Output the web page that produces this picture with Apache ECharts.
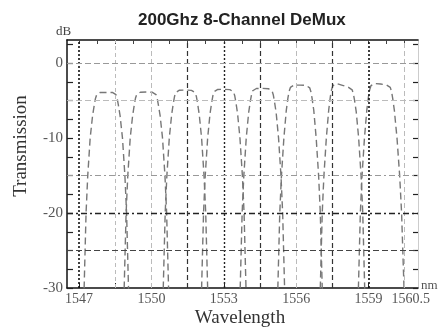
<!DOCTYPE html>
<html>
<head>
<meta charset="utf-8">
<script src="https://cdn.jsdelivr.net/npm/echarts@6/dist/echarts.min.js"></script>
<style>html,body{margin:0;padding:0;background:#fff}#c{width:441px;height:335px}</style>
</head>
<body>
<div id="c"></div>
<script>
// ---- data ----
const titleText = '200Ghz 8-Channel DeMux';
const xTickLabels = [1547, 1550, 1553, 1556, 1559, 1560.5];
const yTickLabels = [-30, -20, -10, 0];
const xGridValues = [1547, 1548.5, 1550, 1551.5, 1553, 1554.5, 1556, 1557.5, 1559, 1560.5];
const yGridValues = [0, -5, -15, -20, -25];

const wl1 = [1547.15,1547.21,1547.25,1547.29,1547.36,1547.46,1547.56,1547.63,1547.68,1547.73,1547.80,1547.88,1548.13,1548.38,1548.46,1548.53,1548.58,1548.63,1548.70,1548.80,1548.90,1548.97,1549.01,1549.05,1549.11];
const db1 = [-33,-30,-25,-20,-15,-10,-7,-5.6,-4.7,-4.2,-3.98,-3.9,-3.9,-3.9,-3.98,-4.2,-4.7,-5.6,-7,-10,-15,-20,-25,-30,-33];
const wl2 = [1548.81,1548.87,1548.91,1548.95,1549.02,1549.12,1549.22,1549.29,1549.34,1549.39,1549.46,1549.54,1549.79,1550.04,1550.12,1550.19,1550.24,1550.29,1550.36,1550.46,1550.56,1550.63,1550.67,1550.71,1550.77];
const db2 = [-33,-30,-25,-20,-15,-10,-7,-5.55,-4.65,-4.17,-3.95,-3.87,-3.85,-3.88,-3.96,-4.18,-4.7,-5.6,-7,-10,-15,-20,-25,-30,-33];
const wl3 = [1550.43,1550.49,1550.53,1550.57,1550.64,1550.74,1550.84,1550.91,1550.96,1551.01,1551.08,1551.16,1551.41,1551.66,1551.74,1551.81,1551.86,1551.91,1551.98,1552.08,1552.18,1552.25,1552.29,1552.33,1552.39];
const db3 = [-33,-30,-25,-20,-15,-10,-6.8,-5.3,-4.4,-3.9,-3.68,-3.6,-3.58,-3.62,-3.7,-3.92,-4.4,-5.3,-6.8,-10,-15,-20,-25,-30,-33];
const wl4 = [1552.02,1552.08,1552.12,1552.16,1552.23,1552.33,1552.43,1552.50,1552.55,1552.60,1552.67,1552.75,1553.00,1553.25,1553.33,1553.40,1553.45,1553.50,1553.57,1553.67,1553.77,1553.84,1553.88,1553.92,1553.98];
const db4 = [-33,-30,-25,-20,-15,-10,-6.7,-5.2,-4.3,-3.8,-3.58,-3.5,-3.48,-3.52,-3.6,-3.82,-4.3,-5.2,-6.7,-10,-15,-20,-25,-30,-33];
const wl5 = [1553.62,1553.68,1553.72,1553.76,1553.83,1553.93,1554.03,1554.10,1554.15,1554.20,1554.27,1554.35,1554.60,1554.85,1554.93,1555.00,1555.05,1555.10,1555.17,1555.27,1555.37,1555.44,1555.48,1555.52,1555.58];
const db5 = [-33,-30,-25,-20,-15,-10,-6.6,-5.05,-4.17,-3.67,-3.45,-3.37,-3.36,-3.4,-3.48,-3.7,-4.2,-5.1,-6.6,-10,-15,-20,-25,-30,-33];
const wl6 = [1555.18,1555.24,1555.28,1555.32,1555.39,1555.49,1555.59,1555.66,1555.71,1555.76,1555.83,1555.91,1556.16,1556.41,1556.49,1556.56,1556.61,1556.66,1556.73,1556.83,1556.93,1557.00,1557.04,1557.08,1557.14];
const db6 = [-33,-30,-25,-20,-15,-10,-6.3,-4.6,-3.73,-3.23,-3.0,-2.93,-2.92,-2.96,-3.05,-3.28,-3.8,-4.7,-6.3,-10,-15,-20,-25,-30,-33];
const wl7 = [1556.94,1557.00,1557.04,1557.08,1557.15,1557.25,1557.35,1557.42,1557.47,1557.52,1557.59,1557.67,1557.92,1558.17,1558.25,1558.32,1558.37,1558.42,1558.49,1558.59,1558.69,1558.76,1558.80,1558.84,1558.90];
const db7 = [-33,-30,-25,-20,-15,-10,-6.2,-4.4,-3.5,-3.0,-2.75,-2.7,-2.95,-3.22,-3.32,-3.55,-4.05,-4.95,-6.5,-10,-15,-20,-25,-30,-33];
const wl8 = [1558.52,1558.58,1558.62,1558.66,1558.73,1558.83,1558.93,1559.00,1559.05,1559.10,1559.17,1559.25,1559.50,1559.75,1559.83,1559.90,1559.95,1560.00,1560.07,1560.18,1560.29,1560.37,1560.42,1560.47,1560.54];
const db8 = [-33,-30,-25,-20,-15,-10,-6.2,-4.4,-3.5,-3.0,-2.78,-2.7,-2.78,-2.92,-3.0,-3.22,-3.75,-4.65,-6.3,-10,-15,-20,-25,-30,-33];

const channelWl = [wl1, wl2, wl3, wl4, wl5, wl6, wl7, wl8];
const channelDb = [db1, db2, db3, db4, db5, db6, db7, db8];

// ---- styles ----
const serif = 'Liberation Serif';
const xGridStyles = [
  {color:'#111', type:[2,2], width:1.6},
  {color:'#bbb', type:[4,3], width:1},
  {color:'#bbb', type:[5,3], width:1},
  {color:'#333', type:[5,3], width:1.2},
  {color:'#222', type:[2,2], width:1.4},
  {color:'#333', type:[5,3], width:1.2},
  {color:'#bbb', type:[5,3], width:1},
  {color:'#333', type:[5,3], width:1.2},
  {color:'#111', type:[2,2], width:1.6},
  {color:'#bbb', type:[5,3], width:1}
];
const yGridStyles = [
  {color:'#999', type:[6,3], width:1.2},
  {color:'#bbb', type:[6,3], width:1},
  {color:'#999', type:[6,3,2,3], width:1},
  {color:'#222', type:[6,3,2,3], width:1.4},
  {color:'#444', type:[6,3], width:1.2}
];

const gridLines = [];
xGridValues.forEach((v, i) => gridLines.push({xAxis: v, lineStyle: xGridStyles[i]}));
yGridValues.forEach((v, i) => gridLines.push({yAxis: v, lineStyle: yGridStyles[i]}));

const series = [{
  type: 'line', data: [], z: 1, silent: true,
  markLine: {silent: true, symbol: ['none','none'], label: {show: false}, animation: false, data: gridLines}
}];
channelWl.forEach((wl, k) => {
  series.push({
    type: 'line', z: 3, showSymbol: false, animation: false, clip: true,
    lineStyle: {color: '#777', width: 1.4, type: [7, 4]},
    data: wl.map((x, i) => [x, channelDb[k][i]])
  });
});

const xMin = 1546.5, xMax = 1561.05, yMin = -30, yMax = 3.1;
const xMinorTicks = [1547,1547.75,1548.5,1549.25,1550,1550.75,1551.5,1552.25,1553,1553.75,1554.5,1555.25,1556,1556.75,1557.5,1558.25,1559,1559.75,1560.5];
const yMinorTicks = [-30,-27.5,-25,-22.5,-20,-17.5,-15,-12.5,-10,-7.5,-5,-2.5,0,2.5];
const plain = v => String(v);
const xLabelFmt = v => (v === 1560.5 ? '{r|' + v + '}' : '{n|' + v + '}');

const chart = echarts.init(document.getElementById('c'), null, {renderer: 'canvas'});
chart.setOption({
  animation: false,
  backgroundColor: '#fff',
  title: {
    text: titleText, left: 133, top: 7,
    textStyle: {fontFamily: 'Liberation Sans', fontWeight: 'bold', fontSize: 17, color: '#222'}
  },
  grid: {left: 67, right: 23, top: 40, bottom: 47, containLabel: false},
  xAxis: [{
    type: 'value', min: xMin, max: xMax, position: 'bottom',
    axisLine: {show: true, onZero: false, lineStyle: {color: '#111', width: 1.5}},
    axisTick: {show: true, inside: true, length: 5, customValues: xGridValues, lineStyle: {color: '#222'}},
    axisLabel: {
      customValues: xTickLabels, formatter: xLabelFmt, margin: 4,
      rich: {
        n: {fontFamily: serif, fontSize: 14, color: '#555'},
        r: {fontFamily: serif, fontSize: 14, color: '#555', padding: [0, 0, 0, 12]}
      }
    },
    splitLine: {show: false}
  }, {
    type: 'value', min: xMin, max: xMax, position: 'top',
    axisLine: {show: true, onZero: false, lineStyle: {color: '#111', width: 1.5}},
    axisTick: {show: true, inside: true, length: 4, customValues: xMinorTicks, lineStyle: {color: '#444'}},
    axisLabel: {show: false}, splitLine: {show: false}
  }],
  yAxis: [{
    type: 'value', min: yMin, max: yMax, position: 'left',
    axisLine: {show: true, onZero: false, lineStyle: {color: '#111', width: 1.5}},
    axisTick: {show: true, inside: true, length: 6, customValues: yMinorTicks, lineStyle: {color: '#222', width: 1.2}},
    axisLabel: {customValues: yTickLabels, formatter: plain, fontFamily: serif, fontSize: 15, color: '#555', margin: 4},
    splitLine: {show: false}
  }, {
    type: 'value', min: yMin, max: yMax, position: 'right',
    axisLine: {show: true, onZero: false, lineStyle: {color: '#ccc', width: 1}},
    axisTick: {show: true, inside: true, length: 5, customValues: yMinorTicks, lineStyle: {color: '#222', width: 1.2}},
    axisLabel: {show: false}, splitLine: {show: false}
  }],
  graphic: [
    {type: 'text', left: 56, top: 25, style: {text: 'dB', font: '13px "Liberation Serif"', fill: '#444'}},
    {type: 'text', left: 421, top: 279, style: {text: 'nm', font: '13px "Liberation Serif"', fill: '#555'}},
    {type: 'text', x: 240, y: 318, style: {text: 'Wavelength', font: '19px "Liberation Serif"', fill: '#333', textAlign: 'center', textVerticalAlign: 'middle'}},
    {type: 'text', x: 21, y: 146, rotation: Math.PI / 2, style: {text: 'Transmission', font: '19px "Liberation Serif"', fill: '#333', textAlign: 'center', textVerticalAlign: 'middle'}}
  ],
  series: series
});
</script>
</body>
</html>
